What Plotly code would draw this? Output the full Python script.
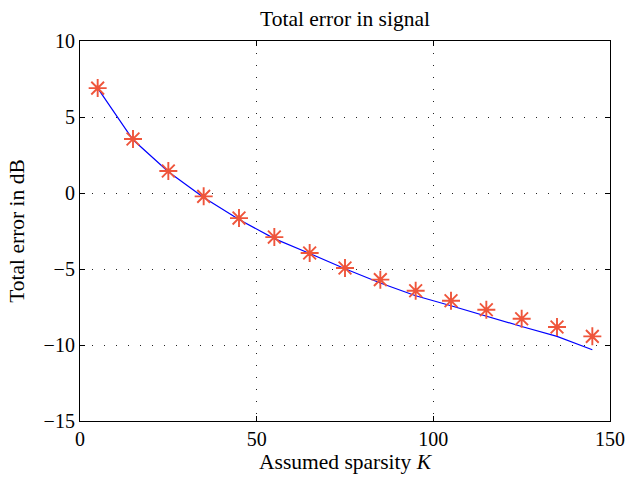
import plotly.graph_objects as go

K = [5, 15, 25, 35, 45, 55, 65, 75, 85, 95, 105, 115, 125, 135, 145]
err_line = [6.9, 3.5, 1.4, -0.3, -1.75, -3.0, -3.98, -4.98, -5.92, -6.76, -7.42, -8.12, -8.78, -9.43, -10.31]
err_pts = [6.9, 3.55, 1.45, -0.22, -1.65, -2.9, -3.95, -4.93, -5.7, -6.43, -7.09, -7.68, -8.27, -8.82, -9.43]

xticks = [0, 50, 100, 150]
yticks = [-15, -10, -5, 0, 5, 10]
ytick_text = ["\u221215", "\u221210", "\u22125", "0", "5", "10"]

font = "Liberation Serif, Times New Roman, serif"
fs = 20
fl = 21.5

fig = go.Figure()
fig.add_trace(go.Scatter(x=K, y=err_line, mode="lines",
                         line=dict(color="#0000ff", width=1.2), showlegend=False))
fig.add_trace(go.Scatter(x=K, y=err_pts, mode="markers",
                         marker=dict(symbol="asterisk-open", size=15,
                                     line=dict(color="#ff0000", width=1.9)),
                         showlegend=False))

axis_common = dict(showline=True, linecolor="black", linewidth=1.2, mirror="ticks",
                   ticks="inside", ticklen=5, tickcolor="black",
                   showgrid=True, gridcolor="#222222", gridwidth=1, griddash="1px,11px",
                   zeroline=False, automargin=False,
                   tickfont=dict(family=font, size=fs, color="black"))

fig.update_xaxes(range=[0, 150], tickvals=xticks, **axis_common,
                 title=dict(text="Assumed sparsity <i>K</i>", font=dict(family=font, size=fl, color="black"),
                            standoff=2))
fig.update_yaxes(range=[-15, 10], tickvals=yticks, ticktext=ytick_text, **axis_common,
                 title=dict(text="Total error in dB", font=dict(family=font, size=fl, color="black"),
                            standoff=13))

fig.update_layout(
    width=625, height=479,
    margin=dict(l=80, r=15, t=41, b=58),
    plot_bgcolor="white", paper_bgcolor="white",
    title=dict(text="Total error in signal", x=345 / 625, xanchor="center", y=1 - 18 / 479, yanchor="middle",
               font=dict(family=font, size=fl, color="black")),
)

fig.write_html("out.html")
